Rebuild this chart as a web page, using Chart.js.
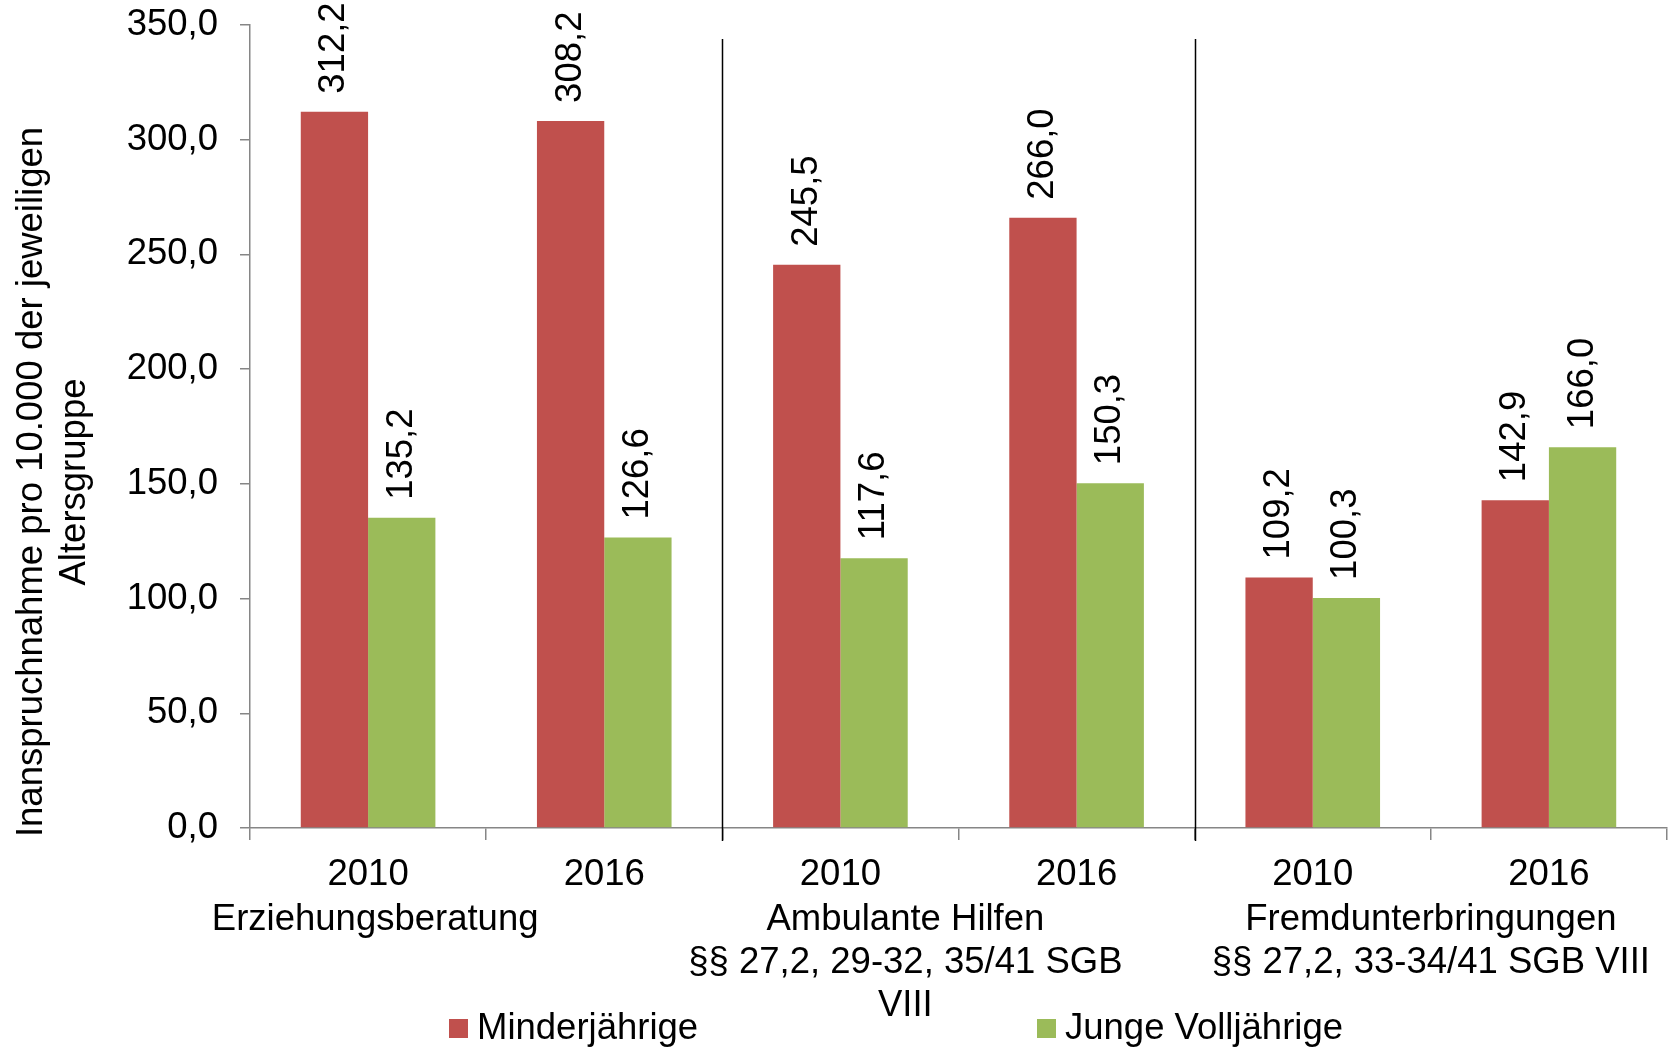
<!DOCTYPE html>
<html>
<head>
<meta charset="utf-8">
<script src="https://cdn.jsdelivr.net/npm/chart.js@4.4.0/dist/chart.umd.min.js"></script>
<style>
  html, body { margin: 0; padding: 0; background: #fff; }
  #wrap { position: relative; width: 1669px; height: 1047px; }
</style>
</head>
<body>
<div id="wrap"><canvas id="myChart" width="1669" height="1047"></canvas></div>
<script>
// data
const years = ['2010', '2016', '2010', '2016', '2010', '2016'];
const minderjaehrige = [312.2, 308.2, 245.5, 266.0, 109.2, 142.9];
const jungeVolljaehrige = [135.2, 126.6, 117.6, 150.3, 100.3, 166.0];
const seriesNames = ['Minderjährige', 'Junge Volljährige'];
const groupLabels = [
    ['Erziehungsberatung'],
    ['Ambulante Hilfen', '§§ 27,2, 29-32, 35/41 SGB', 'VIII'],
    ['Fremdunterbringungen', '§§ 27,2, 33-34/41 SGB VIII']
];
const groupLabelAt = [0.03, 2.275, 4.5];   // category index where each group label is centred
const groupBreaks = [1.5, 3.5];             // separators between groups
const yTitle = ['Inanspruchnahme pro 10.000 der jeweiligen', 'Altersgruppe'];

const FONT = '"Liberation Sans", Arial, sans-serif';
const fmt = v => v.toFixed(1).replace('.', ',');

const extras = {
    id: 'extras',
    afterDatasetsDraw(chart) {
        const ctx = chart.ctx;
        ctx.save();
        ctx.font = '36.5px ' + FONT;
        ctx.fillStyle = '#000';
        ctx.textAlign = 'left';
        ctx.textBaseline = 'middle';
        chart.data.datasets.forEach((ds, i) => {
            chart.getDatasetMeta(i).data.forEach((bar, j) => {
                ctx.save();
                ctx.translate(bar.x, bar.y - 18);
                ctx.rotate(-Math.PI / 2);
                ctx.fillText(fmt(ds.data[j]), 0, 0);
                ctx.restore();
            });
        });
        ctx.restore();
    },
    afterDraw(chart) {
        const ctx = chart.ctx;
        const x = chart.scales.x;
        const area = chart.chartArea;
        ctx.save();
        // separators
        ctx.strokeStyle = '#000';
        ctx.lineWidth = 1.5;
        groupBreaks.forEach(b => {
            const px = Math.round(x.getPixelForValue(b)) + 0.5;
            ctx.beginPath();
            ctx.moveTo(px, area.top + 14);
            ctx.lineTo(px, area.bottom + 13);
            ctx.stroke();
        });
        // group labels
        ctx.font = '36.5px ' + FONT;
        ctx.fillStyle = '#000';
        ctx.textAlign = 'center';
        ctx.textBaseline = 'middle';
        groupLabels.forEach((lines, g) => {
            const px = x.getPixelForValue(groupLabelAt[g]);
            lines.forEach((t, k) => ctx.fillText(t, px, 920 + k * 43));
        });
        // y title
        ctx.save();
        ctx.translate(32, 482);
        ctx.rotate(-Math.PI / 2);
        yTitle.forEach((t, k) => ctx.fillText(t, 0, k * 43));
        ctx.restore();
        // legend
        const legendX = [449, 1037];
        ctx.textAlign = 'left';
        chart.data.datasets.forEach((ds, i) => {
            ctx.fillStyle = ds.backgroundColor;
            ctx.fillRect(legendX[i], 1019, 19, 19);
            ctx.fillStyle = '#000';
            ctx.fillText(ds.label, legendX[i] + 28, 1029);
        });
        ctx.restore();
    }
};

new Chart(document.getElementById('myChart'), {
    type: 'bar',
    data: {
        labels: years,
        datasets: [
            { label: seriesNames[0], data: minderjaehrige, backgroundColor: '#C0504D', borderWidth: 0 },
            { label: seriesNames[1], data: jungeVolljaehrige, backgroundColor: '#9BBB59', borderWidth: 0 }
        ]
    },
    options: {
        responsive: false,
        animation: false,
        devicePixelRatio: 1,
        layout: { padding: { top: 25, right: 2, left: 0, bottom: 0 } },
        datasets: { bar: { categoryPercentage: 0.57, barPercentage: 1.0 } },
        plugins: { legend: { display: false }, tooltip: { enabled: false } },
        scales: {
            x: {
                afterFit: s => { s.height = 219; },
                grid: {
                    offset: true,
                    drawOnChartArea: false,
                    color: '#868686',
                    tickLength: 12,
                    lineWidth: 1.5
                },
                border: { color: '#868686', width: 1.5 },
                ticks: { color: '#000', font: { size: 36.5, family: FONT }, padding: 13, maxRotation: 0 }
            },
            y: {
                min: 0,
                max: 350,
                afterFit: s => { s.width = 250; s.paddingTop = 0; s.paddingBottom = 0; },
                grid: { drawOnChartArea: false, color: '#868686', tickLength: 10, lineWidth: 1.5 },
                border: { color: '#868686', width: 1.5 },
                ticks: {
                    stepSize: 50,
                    color: '#000',
                    padding: 22,
                    font: { size: 36.5, family: FONT },
                    callback: v => fmt(v)
                }
            }
        }
    },
    plugins: [extras]
});
</script>
</body>
</html>
